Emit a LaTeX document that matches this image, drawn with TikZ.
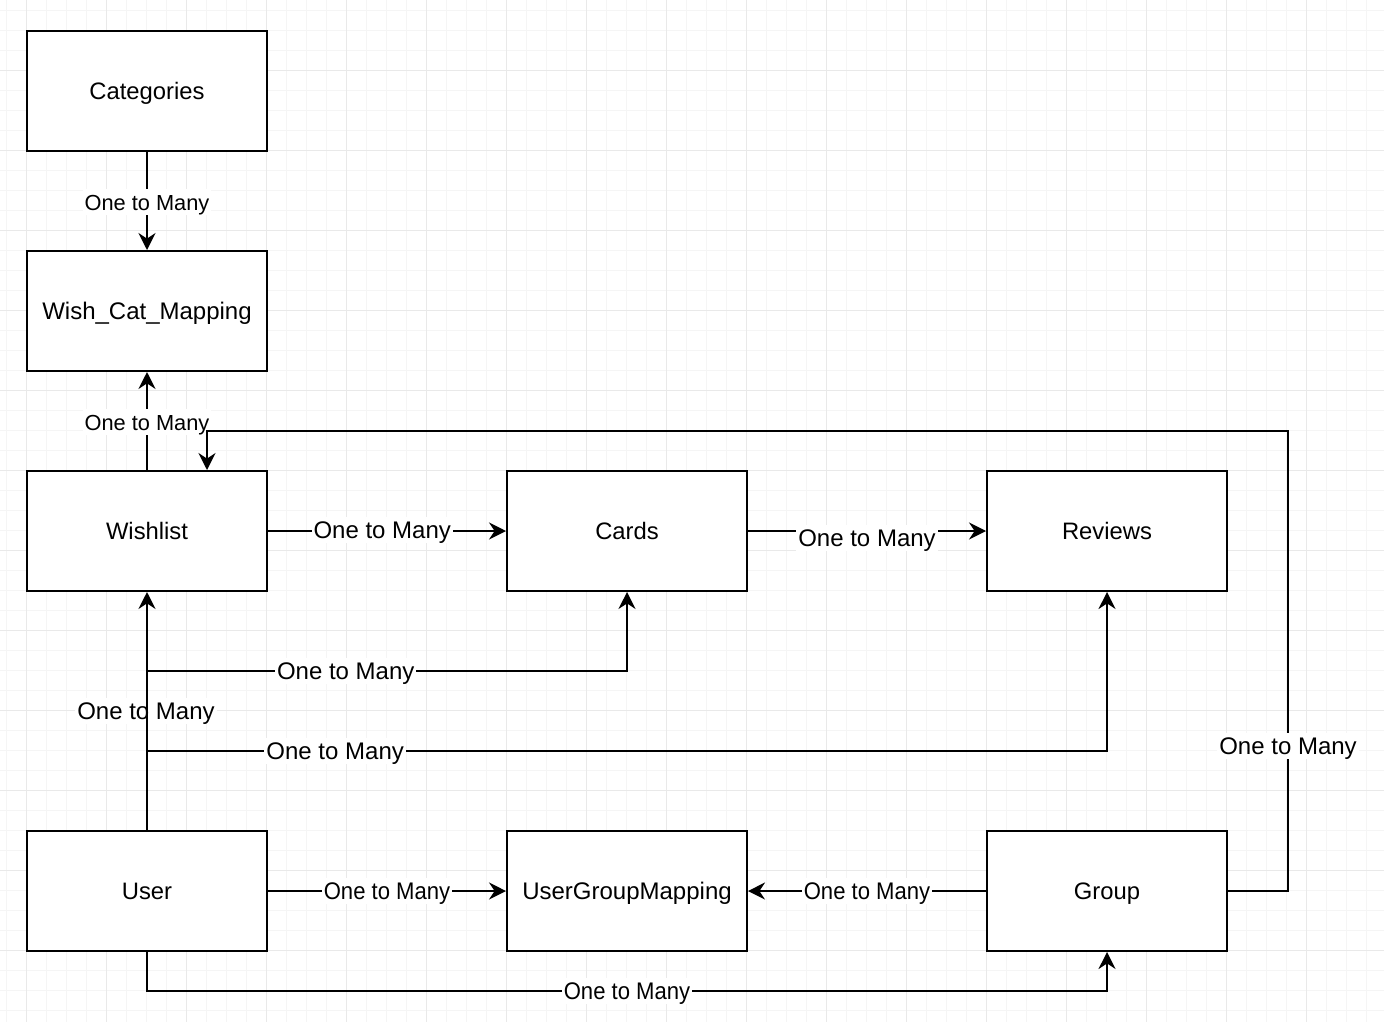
\documentclass[tikz,border=0pt]{standalone}
\usepackage{fontspec}
\setmainfont{Liberation Sans}
\newfontfamily\condfont[FakeStretch=0.92]{Liberation Sans}
\usetikzlibrary{arrows.meta}
\begin{document}
\begin{tikzpicture}[x=0.5pt,y=-0.5pt,
  txt/.style={text height=0.966em,text depth=0.12em},
  entity/.style={txt,draw=black,line width=1pt,fill=white,minimum width=120pt,minimum height=60pt,inner sep=0pt,font=\fontsize{11.9pt}{14pt}\selectfont},
  conn/.style={draw=black,line width=1pt},
  arr/.style={conn,-{Stealth[length=8.5pt,width=8.5pt,inset=2.8pt]}},
  lbl/.style={txt,fill=white,inner sep=1pt,font=\fontsize{12pt}{14pt}\selectfont},
  lbls/.style={txt,fill=white,inner sep=1pt,font=\fontsize{10.9pt}{13pt}\selectfont},
  lblc/.style={txt,fill=white,inner sep=1pt,font=\condfont\fontsize{12pt}{14pt}\selectfont},
  minorgrid/.style={draw={rgb,255:red,245;green,245;blue,245},line width=0.5pt},
  majorgrid/.style={draw={rgb,255:red,233;green,233;blue,233},line width=0.5pt}]
\useasboundingbox (0,0) rectangle (1384,1022);
\fill[white] (0,0) rectangle (1384,1022);
% grid
\foreach \k in {0,...,69} {\draw[minorgrid] (6.7+20*\k,0) -- (6.7+20*\k,1022);}
\foreach \k in {0,...,50} {\draw[minorgrid] (0,10.7+20*\k) -- (1384,10.7+20*\k);}
\foreach \k in {0,...,17} {\draw[majorgrid] (26.7+80*\k,0) -- (26.7+80*\k,1022);}
\foreach \k in {0,...,12} {\draw[majorgrid] (0,-9.3+80*\k) -- (1384,-9.3+80*\k);}
% entities
\node[entity] (cat) at (147,91) {Categories};
\node[entity,font=\fontsize{12pt}{14pt}\selectfont] (wcm) at (147,311) {Wish\_Cat\_Mapping};
\node[entity] (wish) at (147,531) {Wishlist};
\node[entity] (cards) at (627,531) {Cards};
\node[entity] (rev) at (1107,531) {Reviews};
\node[entity] (user) at (147,891) {User};
\node[entity,font=\fontsize{12pt}{14pt}\selectfont] (ugm) at (627,891) {UserGroupMapping};
\node[entity] (grp) at (1107,891) {Group};
\coordinate (gw) at (207,431);
% connectors
\draw[arr] (cat.south) -- node[lbls,pos=0.51] {One to Many} (wcm.north);
\draw[arr] (wish.north) -- node[lbls,pos=0.49] {One to Many} (wcm.south);
\draw[arr] (grp.east) -- ++(60,0) |- node[lbl,pos=0.158] {One to Many} (gw) -- (gw |- wish.north);
\draw[arr] (wish.east) -- node[lbl,pos=0.48,yshift=0.5pt] {One to Many} (cards.west);
\draw[arr] (cards.east) -- node[lbl,pos=0.5,yshift=-3.5pt] {One to Many} (rev.west);
\draw[arr] (user.north) -- node[lbl,pos=0.5,xshift=-0.5pt] {One to Many} (wish.south);
\draw[arr] (user.north) |- node[lbl,pos=0.707] {One to Many} (cards.south |- 0,671) -- (cards.south);
\draw[arr] (user.north) |- node[lbl,pos=0.598] {One to Many} (rev.south |- 0,751) -- (rev.south);
\draw[arr] (user.east) -- node[lblc,pos=0.5] {One to Many} (ugm.west);
\draw[arr] (grp.west) -- node[lblc,pos=0.5] {One to Many} (ugm.east);
\draw[arr] (user.south) |- node[lblc,pos=0.75] {One to Many} (grp.south |- 0,991) -- (grp.south);
\end{tikzpicture}
\end{document}
